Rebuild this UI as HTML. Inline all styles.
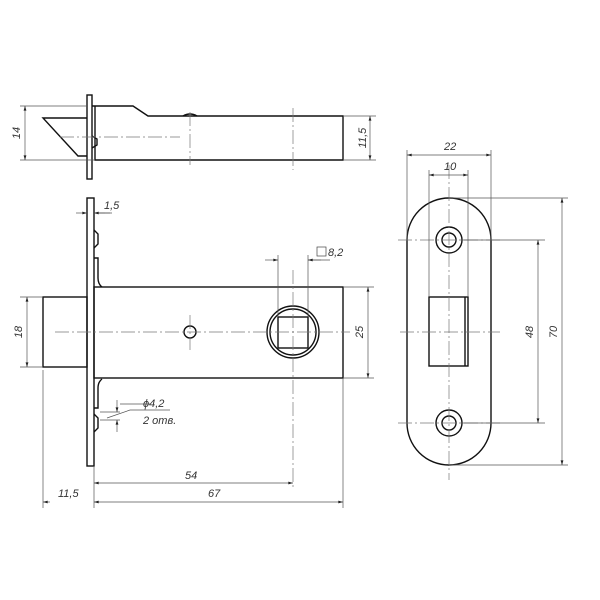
<!DOCTYPE html>
<html><head><style>body{margin:0;background:#fff}svg{display:block}text{font-family:"Liberation Sans",sans-serif;font-style:italic;font-size:11px;fill:#333}</style></head><body>
<svg width="600" height="600" viewBox="0 0 600 600" xmlns="http://www.w3.org/2000/svg">
<defs><marker id="a" viewBox="0 0 10 6" refX="10" refY="3" markerWidth="8" markerHeight="4" orient="auto-start-reverse"><path d="M0,0L10,3L0,6z" fill="#222"/></marker></defs>
<g fill="none" stroke="#111" stroke-width="1.4">
<!-- top view -->
<rect x="87" y="95" width="5" height="84"/>
<path d="M92,106H133L148,116H343V160H95V106"/>
<path d="M87,118H43L78,156H87"/>
<path d="M92,136l5,3v6l-5,3"/>
<path d="M183,116q7,-4 14,0"/>
<!-- main view -->
<rect x="87" y="198" width="7" height="268"/>
<rect x="94" y="287" width="249" height="91"/>
<rect x="43" y="297" width="44" height="70"/>
<circle cx="190" cy="332" r="6"/>
<circle cx="293" cy="332" r="26"/><circle cx="293" cy="332" r="23"/>
<rect x="278" y="317" width="30" height="31"/>
<path d="M94,230l4,4v10l-4,4M94,258h4v20q0,6 4,9M94,408h4v-20q0,-6 4,-9M94,414l4,4v10l-4,4"/>
<!-- right view -->
<path d="M407,240A42,42 0 0 1 491,240V423A42,42 0 0 1 407,423Z"/>
<circle cx="449" cy="240" r="13"/><circle cx="449" cy="240" r="7"/>
<circle cx="449" cy="423" r="13"/><circle cx="449" cy="423" r="7"/>
<rect x="429" y="297" width="39" height="69"/><line x1="465" y1="297" x2="465" y2="366"/>
</g>
<g stroke="#777" stroke-width="0.7" fill="none" stroke-dasharray="14,3,2,3">
<path d="M60,137H180M190,112V165M293,108V170M55,332H350M190,315V350M293,270V490M400,332H500M449,165V480M398,240H500M398,423H500"/>
</g>
<g stroke="#555" stroke-width="0.7" fill="none">
<path d="M20,106H87M20,160H95M343,116H376M343,160H376M20,297H43M20,367H43M343,287H374M343,378H374M43,370V508M94,466V508M343,378V508M278,255V317M308,255V317M308,260H330M94,213H112M407,150V240M491,150V240M429,170V297M468,170V297M449,198H568M449,465H568M462,240H545M462,423H545M120,404H150M100,412H120M100,420H120"/>
<path d="M107,418L130,410H170"/>
<g marker-start="url(#a)" marker-end="url(#a)">
<line x1="25" y1="106" x2="25" y2="160"/><line x1="370" y1="116" x2="370" y2="160"/>
<line x1="27" y1="297" x2="27" y2="367"/><line x1="368" y1="287" x2="368" y2="378"/>
<line x1="94" y1="483" x2="293" y2="483"/><line x1="94" y1="502" x2="343" y2="502"/>
<line x1="407" y1="155" x2="491" y2="155"/><line x1="429" y1="175" x2="468" y2="175"/>
<line x1="538" y1="240" x2="538" y2="423"/><line x1="562" y1="198" x2="562" y2="465"/>
</g>
<g marker-end="url(#a)"><line x1="76" y1="213" x2="87" y2="213"/><line x1="110" y1="213" x2="94" y2="213" marker-end="none"/><line x1="105" y1="213" x2="94" y2="213"/><line x1="265" y1="260" x2="278" y2="260"/><line x1="321" y1="260" x2="308" y2="260"/><line x1="50" y1="502" x2="43" y2="502"/><line x1="117" y1="400" x2="117" y2="412"/><line x1="117" y1="432" x2="117" y2="420"/></g>
</g>
<g>
<text transform="translate(20,133) rotate(-90)" text-anchor="middle">14</text>
<text transform="translate(366,138) rotate(-90)" text-anchor="middle">11,5</text>
<text transform="translate(22,332) rotate(-90)" text-anchor="middle">18</text>
<text transform="translate(363,332) rotate(-90)" text-anchor="middle">25</text>
<text x="104" y="209">1,5</text>
<text x="328" y="256">8,2</text><rect x="317" y="247" width="9" height="9" fill="none" stroke="#444" stroke-width="0.7"/>
<text x="143" y="407">ϕ4,2</text><text x="143" y="424">2 отв.</text>
<text x="185" y="479">54</text><text x="208" y="497">67</text><text x="58" y="497">11,5</text>
<text x="444" y="150">22</text><text x="444" y="170">10</text>
<text transform="translate(533,332) rotate(-90)" text-anchor="middle">48</text>
<text transform="translate(557,332) rotate(-90)" text-anchor="middle">70</text>
</g>
</svg>
</body></html>
